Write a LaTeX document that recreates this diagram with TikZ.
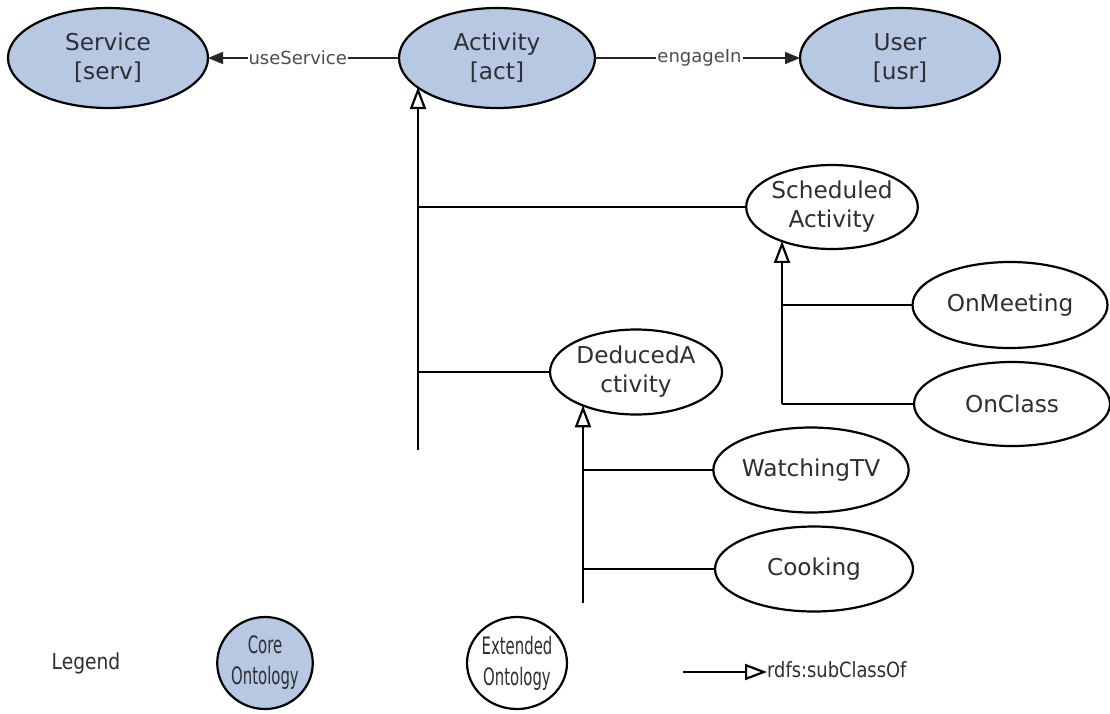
\documentclass[tikz,border=0pt]{standalone}
\usepackage{fontspec}
\setmainfont{DejaVu Sans}
\usetikzlibrary{arrows.meta,shapes.geometric}
\definecolor{corefill}{HTML}{B7C8E3}
\definecolor{txt}{HTML}{2E2E33}
\tikzset{
  cls/.style={ellipse, draw=black, line width=2.2pt, inner sep=0pt, outer sep=0pt,
    align=center, text=txt, font=\fontsize{23.2}{29}\selectfont},
  core/.style={cls, fill=corefill},
  ext/.style={cls, fill=white},
  prop/.style={line width=1.6pt, draw=black!85, -{Triangle[length=15pt,width=12pt]}},
  sub/.style={line width=2.2pt, -{Triangle[open,length=22pt,width=16pt,line width=2.2pt]}},
  branch/.style={line width=2.2pt},
  lbl/.style={fill=white, inner sep=1pt, text=txt!85, font=\fontsize{18}{20}\selectfont},
  leg/.style={text=txt, font=\fontsize{22}{27}\selectfont},
  legin/.style={font=\fontsize{24}{31}\selectfont}
}
\newcommand{\lsq}[1]{\scalebox{0.62}[1]{#1}}
\begin{document}
\begin{tikzpicture}[x=1pt,y=-1pt]
\fill[white] (0,0) rectangle (1110,713);
\useasboundingbox (0,0) rectangle (1110,713);

% core nodes
\node[core, minimum width=200pt, minimum height=100pt] (serv) at (108,58) {Service\\{[serv]}};
\node[core, minimum width=196pt, minimum height=100pt] (act) at (497,58) {Activity\\{[act]}};
\node[core, minimum width=200pt, minimum height=100pt] (usr) at (900,58) {User\\{[usr]}};

% extended nodes
\node[ext, minimum width=170pt, minimum height=84pt] (sched) at (832,207) {Scheduled\\Activity};
\node[ext, minimum width=172pt, minimum height=85pt] (ded) at (636,372) {DeducedA\\ctivity};
\node[ext, minimum width=195pt, minimum height=86pt] (meet) at (1010,305) {OnMeeting};
\node[ext, minimum width=196pt, minimum height=84pt] (class) at (1012,404) {OnClass};
\node[ext, minimum width=194pt, minimum height=85pt] (watch) at (811,470) {WatchingTV};
\node[ext, minimum width=198pt, minimum height=85pt] (cook) at (814,569) {Cooking};

% properties
\draw[prop] (act.west) -- node[lbl, pos=0.53] {useService} (serv.east);
\draw[prop] (act.east) -- node[lbl, pos=0.51] {engageIn} (usr.west);

% subclass trunks
\coordinate (tA) at (418,450);
\coordinate (tS) at (782,404);
\coordinate (tD) at (583,603);

\draw[sub] (tA) -- (tA |- act.200.54);
\draw[branch] (sched.west) -- (sched.west -| tA);
\draw[branch] (ded.west) -- (ded.west -| tA);

\draw[sub] (tS) -- (tS |- sched.214.2);
\draw[branch] (meet.west) -- (meet.west -| tS);
\draw[branch, line join=miter] (class.west) -- (tS);

\draw[sub] (tD) -- (tD |- ded.212.3);
\draw[branch] (watch.west) -- (watch.west -| tD);
\draw[branch] (cook.west) -- (cook.west -| tD);

% legend
\node[leg] (legend) at (86,663) {\scalebox{0.85}[1]{Legend}};
\node[core, legin, minimum width=95pt, minimum height=92pt] (lcore) at (265,663)
  {\lsq{Core}\\\lsq{Ontology}};
\node[ext, legin, minimum width=95pt, minimum height=92pt] (lext) at (517,663)
  {\lsq{Extended}\\\lsq{Ontology}};
\node[anchor=west, text=txt, font=\fontsize{21}{24}\selectfont, inner sep=0pt] (rdfs) at (767,670)
  {\scalebox{0.85}[1]{rdfs:subClassOf}};
\coordinate (la) at (683,672);
\draw[sub] (la) -- (la -| rdfs.west);
\end{tikzpicture}
\end{document}
